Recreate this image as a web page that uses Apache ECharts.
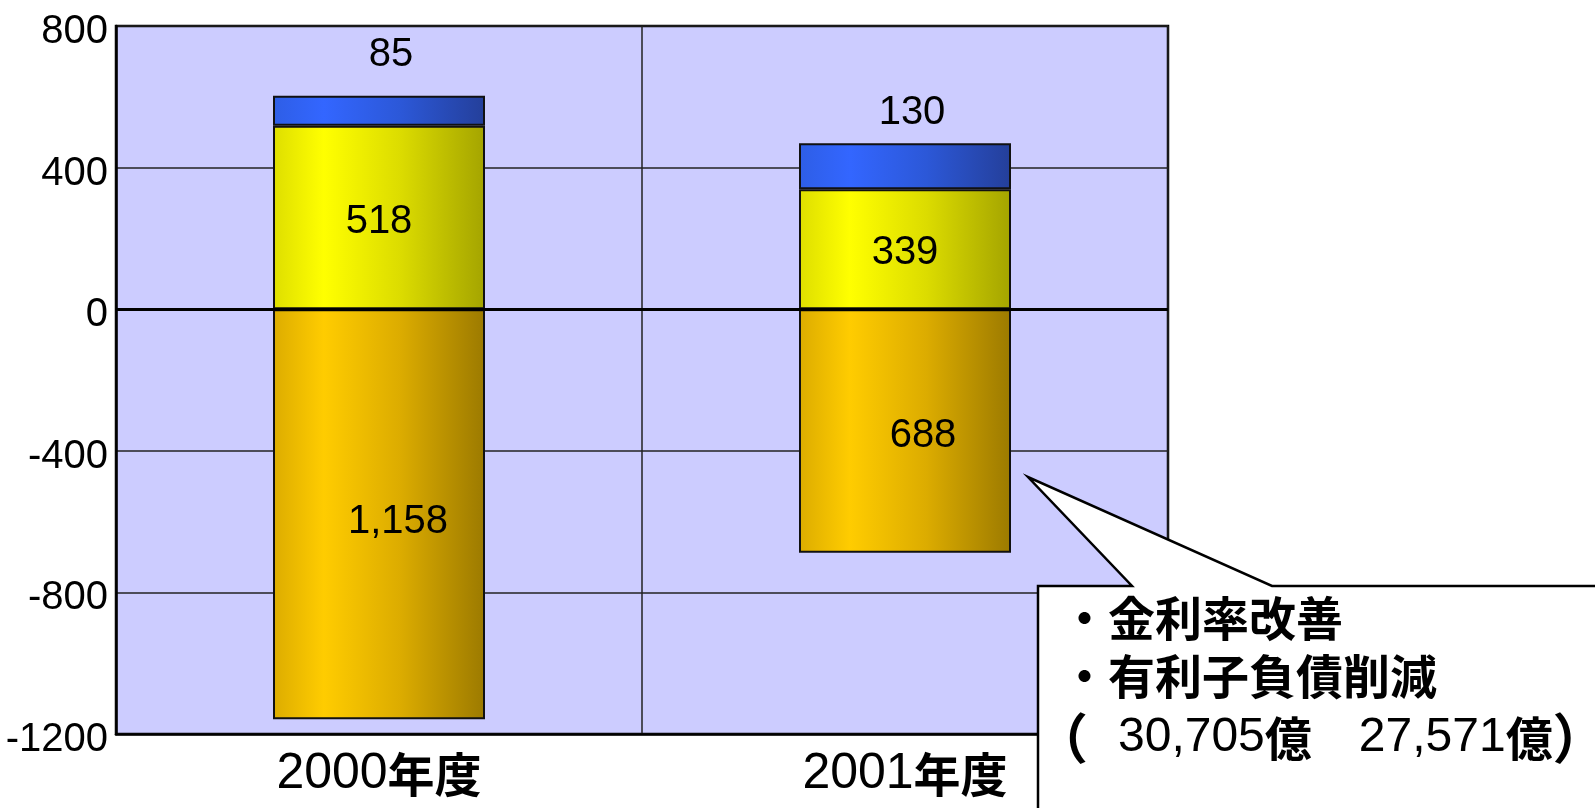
<!DOCTYPE html>
<html><head><meta charset="utf-8">
<script src="https://cdn.jsdelivr.net/npm/echarts@6/dist/echarts.min.js"></script>
<style>html,body{margin:0;padding:0;background:#fff}#c{width:1595px;height:808px}</style>
</head><body><div id="c"></div>
<script>
const categories = ['2000年度', '2001年度'];
const goldValues = [-1158, -688];
const yellowValues = [518, 339];
const blueValues = [85, 130];
const yTicks = { min: -1200, max: 800, interval: 400 };
const calloutLines = ['・金利率改善', '・有利子負債削減'];
const calloutAmounts = ['30,705', '27,571'];

const LATIN = '"Liberation Sans",Arial,sans-serif';
const CJK = '"Noto Sans CJK JP",sans-serif';

function grad(stops) {
  return new echarts.graphic.LinearGradient(0, 0, 1, 0, stops.map((c, i) => ({ offset: [0, 0.24, 0.6, 1][i], color: c })));
}
function fmt(v) { return Math.abs(v).toLocaleString('en-US'); }

const chart = echarts.init(document.getElementById('c'));
const labelBase = { show: true, color: '#000', fontFamily: LATIN, fontSize: 40, lineHeight: 40, formatter: p => fmt(p.value) };

chart.setOption({
  animation: false,
  grid: { left: 116, right: 427, top: 26, bottom: 74, outerBoundsMode: 'none', containLabel: false, show: true, backgroundColor: '#ccccff', borderColor: '#000', borderWidth: 2.5 },
  xAxis: {
    type: 'category', data: categories,
    axisLine: { onZero: false, lineStyle: { color: '#000', width: 2.5 } },
    axisTick: { show: false },
    splitLine: { show: true, lineStyle: { color: '#222', width: 1.5 } },
    axisLabel: {
      margin: 15,
      formatter: v => '{a|' + v.replace('年度', '') + '}{b|年度}',
      rich: {
        a: { fontFamily: LATIN, fontSize: 50, lineHeight: 50, color: '#000' },
        b: { fontFamily: CJK, fontWeight: 'bold', fontSize: 47, lineHeight: 50, color: '#000' }
      }
    }
  },
  yAxis: {
    type: 'value', min: yTicks.min, max: yTicks.max, interval: yTicks.interval,
    axisLine: { show: true, lineStyle: { color: '#000', width: 2.5 } },
    axisTick: { show: false },
    splitLine: { lineStyle: { color: '#222', width: 1.5 } },
    axisLabel: { fontFamily: LATIN, fontSize: 40, lineHeight: 12, verticalAlign: 'top', color: '#000', margin: 8, formatter: v => String(v) }
  },
  series: [
    {
      name: '支払利息減少', type: 'bar', stack: 's', barWidth: 212,
      itemStyle: { color: grad(['#dcac00', '#ffcc00', '#dcac00', '#9c7a00']), borderColor: '#111', borderWidth: 2 },
      data: goldValues.map((v, i) => ({ value: v, label: { offset: [[19, 8], [18, 5]][i] } })),
      label: Object.assign({}, labelBase, { position: 'inside' }),
      markLine: { silent: true, symbol: 'none', label: { show: false }, lineStyle: { color: '#000', width: 3, type: 'solid' }, data: [{ yAxis: 0 }] },
      z: 3
    },
    {
      name: '金利率改善', type: 'bar', stack: 's',
      itemStyle: { color: grad(['#dede00', '#ffff00', '#dcdc00', '#a4a400']), borderColor: '#111', borderWidth: 2 },
      data: yellowValues.map((v, i) => ({ value: v, label: { offset: [[0, 4], [0, 4]][i] } })),
      label: Object.assign({}, labelBase, { position: 'inside' })
    },
    {
      name: '有利子負債削減', type: 'bar', stack: 's',
      itemStyle: { color: grad(['#2e5ee6', '#3366ff', '#2c58d8', '#243f9a']), borderColor: '#111', borderWidth: 2 },
      data: blueValues.map((v, i) => ({ value: v, label: { offset: [[12, -21], [7, -10]][i] } })),
      label: Object.assign({}, labelBase, { position: 'top', distance: 0 })
    }
  ],
  graphic: [
    {
      type: 'polygon', z: 100,
      shape: { points: [[1038, 840], [1038, 586], [1132, 586], [1028, 477], [1272, 586], [1640, 586], [1640, 840]] },
      style: { fill: '#fff', stroke: '#000', lineWidth: 2.5 }
    },
    {
      type: 'text', z: 101,
      style: { x: 1061, y: 618, verticalAlign: 'middle', text: calloutLines[0], font: 'bold 47px "Noto Sans CJK JP"', fill: '#000' }
    },
    {
      type: 'text', z: 101,
      style: { x: 1061, y: 676, verticalAlign: 'middle', text: calloutLines[1], font: 'bold 47px "Noto Sans CJK JP"', fill: '#000' }
    },
    {
      type: 'text', z: 101,
      style: {
        x: 1034, y: 738, verticalAlign: 'middle',
        text: '{p|（}{n|' + calloutAmounts[0] + '}{k|億}{s|　}{n|' + calloutAmounts[1] + '}{k|億}{q|）}',
        rich: {
          p: { fontFamily: CJK, fontWeight: 'bold', fontSize: 54, width: 84, lineHeight: 54, fill: '#000' },
          n: { fontFamily: LATIN, fontSize: 48, lineHeight: 54, fill: '#000' },
          k: { fontFamily: CJK, fontWeight: 'bold', fontSize: 47, lineHeight: 54, fill: '#000' },
          s: { fontFamily: CJK, fontSize: 47, width: 47, lineHeight: 54, fill: '#000' },
          q: { fontFamily: CJK, fontWeight: 'bold', fontSize: 54, lineHeight: 54, fill: '#000' }
        }
      }
    }
  ]
});
</script></body></html>
